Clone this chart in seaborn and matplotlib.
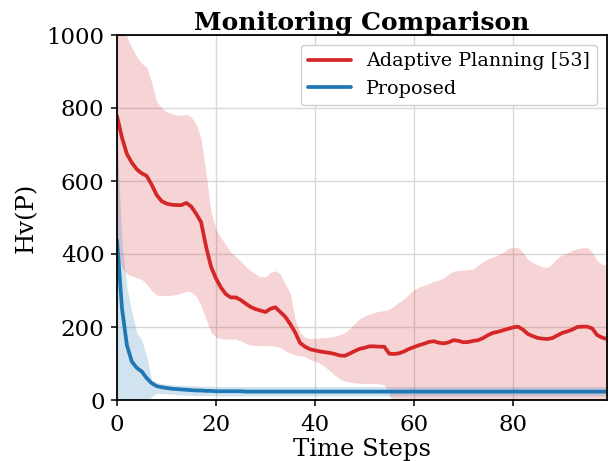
import matplotlib
matplotlib.use("Agg")
import matplotlib.pyplot as plt
import pandas as pd
import seaborn as sns

# Time axis
steps = list(range(100))

# Adaptive Planning [53]: mean and spread bounds
red_mean = [778, 719, 674, 650, 632, 621, 614, 590, 562, 545,
            538, 535, 534, 534, 540, 530, 510, 487, 420, 365,
            333, 308, 290, 281, 281, 274, 264, 255, 249, 245,
            241, 250, 254, 241, 228, 208, 185, 156, 146, 139,
            136, 133, 131, 129, 126, 122, 121, 127, 134, 140,
            143, 147, 147, 146, 146, 127, 126, 128, 133, 140,
            145, 150, 154, 159, 161, 157, 155, 158, 164, 162,
            158, 159, 162, 164, 170, 178, 184, 187, 191, 195,
            199, 201, 193, 181, 175, 170, 168, 167, 170, 177,
            184, 188, 193, 200, 201, 201, 196, 178, 171, 167]
red_high = [1060, 1030, 995, 965, 940, 922, 912, 870, 818, 800,
            790, 784, 781, 780, 783, 775, 755, 715, 620, 515,
            468, 445, 425, 405, 393, 380, 366, 354, 345, 338,
            337, 350, 354, 345, 318, 292, 220, 185, 172, 168,
            169, 170, 171, 172, 175, 179, 184, 195, 210, 222,
            230, 236, 240, 243, 245, 248, 258, 268, 277, 290,
            302, 309, 314, 319, 325, 329, 334, 345, 353, 355,
            356, 357, 359, 370, 380, 387, 392, 398, 404, 415,
            418, 418, 405, 385, 376, 370, 364, 363, 374, 389,
            398, 403, 410, 414, 417, 418, 405, 382, 372, 368]
red_low = [400, 362, 345, 340, 335, 330, 318, 300, 288, 286,
           286, 287, 289, 292, 298, 296, 284, 258, 222, 185,
           172, 168, 167, 167, 167, 162, 155, 150, 149, 149,
           149, 149, 147, 144, 135, 128, 123, 121, 119, 110,
           107, 100, 91, 80, 68, 58, 52, 49, 47, 46,
           45, 45, 45, 44, 42, 18, -30, -35, -30, -25,
           -15, -10, -8, -5, -5, -15, -25, -30, -25, -30,
           -40, -40, -35, -40, -40, -30, -25, -25, -20, -25,
           -20, -15, -20, -25, -25, -30, -30, -30, -35, -35,
           -30, -30, -25, -15, -15, -15, -15, -25, -30, -35]

# Proposed: mean and spread bounds
blue_mean = [438, 252, 150, 105, 88, 78, 60, 46, 38, 35,
             33, 31, 30, 29, 28, 27, 26, 26, 25, 25,
             24, 24, 24, 24, 24, 24, 23, 23, 23, 23,
             23, 23, 23, 23, 23, 23, 23, 23, 23, 23,
             23, 23, 23, 23, 23, 23, 23, 23, 23, 23,
             23, 23, 23, 23, 23, 23, 23, 23, 23, 23,
             23, 23, 23, 23, 23, 23, 23, 23, 23, 23,
             23, 23, 23, 23, 23, 23, 23, 23, 23, 23,
             23, 23, 23, 23, 23, 23, 23, 23, 23, 23,
             23, 23, 23, 23, 23, 23, 23, 23, 23, 23]
blue_high = [720, 430, 310, 240, 185, 165, 120, 55, 48, 45,
             43, 42, 41, 40, 40, 39, 39, 38, 38, 38,
             37, 37, 37, 37, 37, 37, 37, 37, 37, 37,
             37, 37, 37, 37, 37, 37, 37, 37, 37, 37,
             37, 37, 37, 37, 37, 37, 37, 37, 37, 37,
             37, 37, 37, 37, 37, 37, 37, 37, 37, 37,
             37, 37, 37, 37, 37, 37, 37, 37, 37, 37,
             37, 37, 37, 37, 37, 37, 37, 37, 37, 37,
             37, 37, 37, 37, 37, 37, 37, 37, 37, 37,
             37, 37, 37, 37, 37, 37, 37, 37, 37, 37]
blue_low = [-20, -30, -30, -25, -20, -20, -15, 10, 18, 18,
            17, 16, 15, 14, 13, 13, 12, 12, 12, 12,
            11, 11, 11, 11, 11, 11, 11, 11, 11, 11,
            11, 11, 11, 11, 11, 11, 11, 11, 11, 11,
            11, 11, 11, 11, 11, 11, 11, 11, 11, 11,
            11, 11, 11, 11, 11, 11, 11, 11, 11, 11,
            11, 11, 11, 11, 11, 11, 11, 11, 11, 11,
            11, 11, 11, 11, 11, 11, 11, 11, 11, 11,
            11, 11, 11, 11, 11, 11, 11, 11, 11, 11,
            11, 11, 11, 11, 11, 11, 11, 11, 11, 11]

methods = ["Adaptive Planning [53]", "Proposed"]
colors = {"Adaptive Planning [53]": "#d62728", "Proposed": "#1f77b4"}

sns.set_theme(style="whitegrid", rc={
    "axes.edgecolor": "black",
    "axes.linewidth": 1.3,
    "grid.color": "#d8d8d8",
    "grid.linewidth": 1.0,
    "xtick.bottom": True,
    "ytick.left": True,
    "xtick.major.size": 4,
    "ytick.major.size": 4,
    "xtick.major.width": 1.1,
    "ytick.major.width": 1.1,
    "xtick.color": "black",
    "ytick.color": "black",
    "text.color": "black",
    "axes.labelcolor": "black",
})
plt.rcParams["font.family"] = ["DejaVu Serif"]

df = pd.DataFrame({
    "step": steps + steps,
    "value": red_mean + blue_mean,
    "method": [methods[0]] * len(steps) + [methods[1]] * len(steps),
})

fig = plt.figure(figsize=(6.1, 4.61), dpi=100)
ax = fig.add_axes([117 / 610, 1 - 400 / 461, 490 / 610, 365 / 461])

ax.fill_between(steps, red_low, red_high, color=colors[methods[0]], alpha=0.2, lw=0)
ax.fill_between(steps, blue_low, blue_high, color=colors[methods[1]], alpha=0.2, lw=0)
sns.lineplot(data=df, x="step", y="value", hue="method", hue_order=methods,
             palette=colors, linewidth=2.7, ax=ax)

ax.set_xlim(0, 99)
ax.set_ylim(0, 1000)
ax.set_xticks([0, 20, 40, 60, 80])
ax.set_yticks([0, 200, 400, 600, 800, 1000])
ax.tick_params(axis="x", labelsize=16.5, pad=6)
ax.tick_params(axis="y", labelsize=16.5, pad=5)
ax.set_xlabel("Time Steps", fontsize=17.5, labelpad=1.5)
ax.set_ylabel("Hv(P)", fontsize=17.5, labelpad=6)
ax.set_title("Monitoring Comparison", fontsize=18, fontweight="bold", pad=3)

handles, labels = ax.get_legend_handles_labels()
ax.legend(handles, labels, loc="upper right", fontsize=13.8, frameon=True,
          edgecolor="#d0d0d0", framealpha=1.0, borderaxespad=0.5,
          handlelength=2.2)

fig.savefig("out.png", dpi=100)
